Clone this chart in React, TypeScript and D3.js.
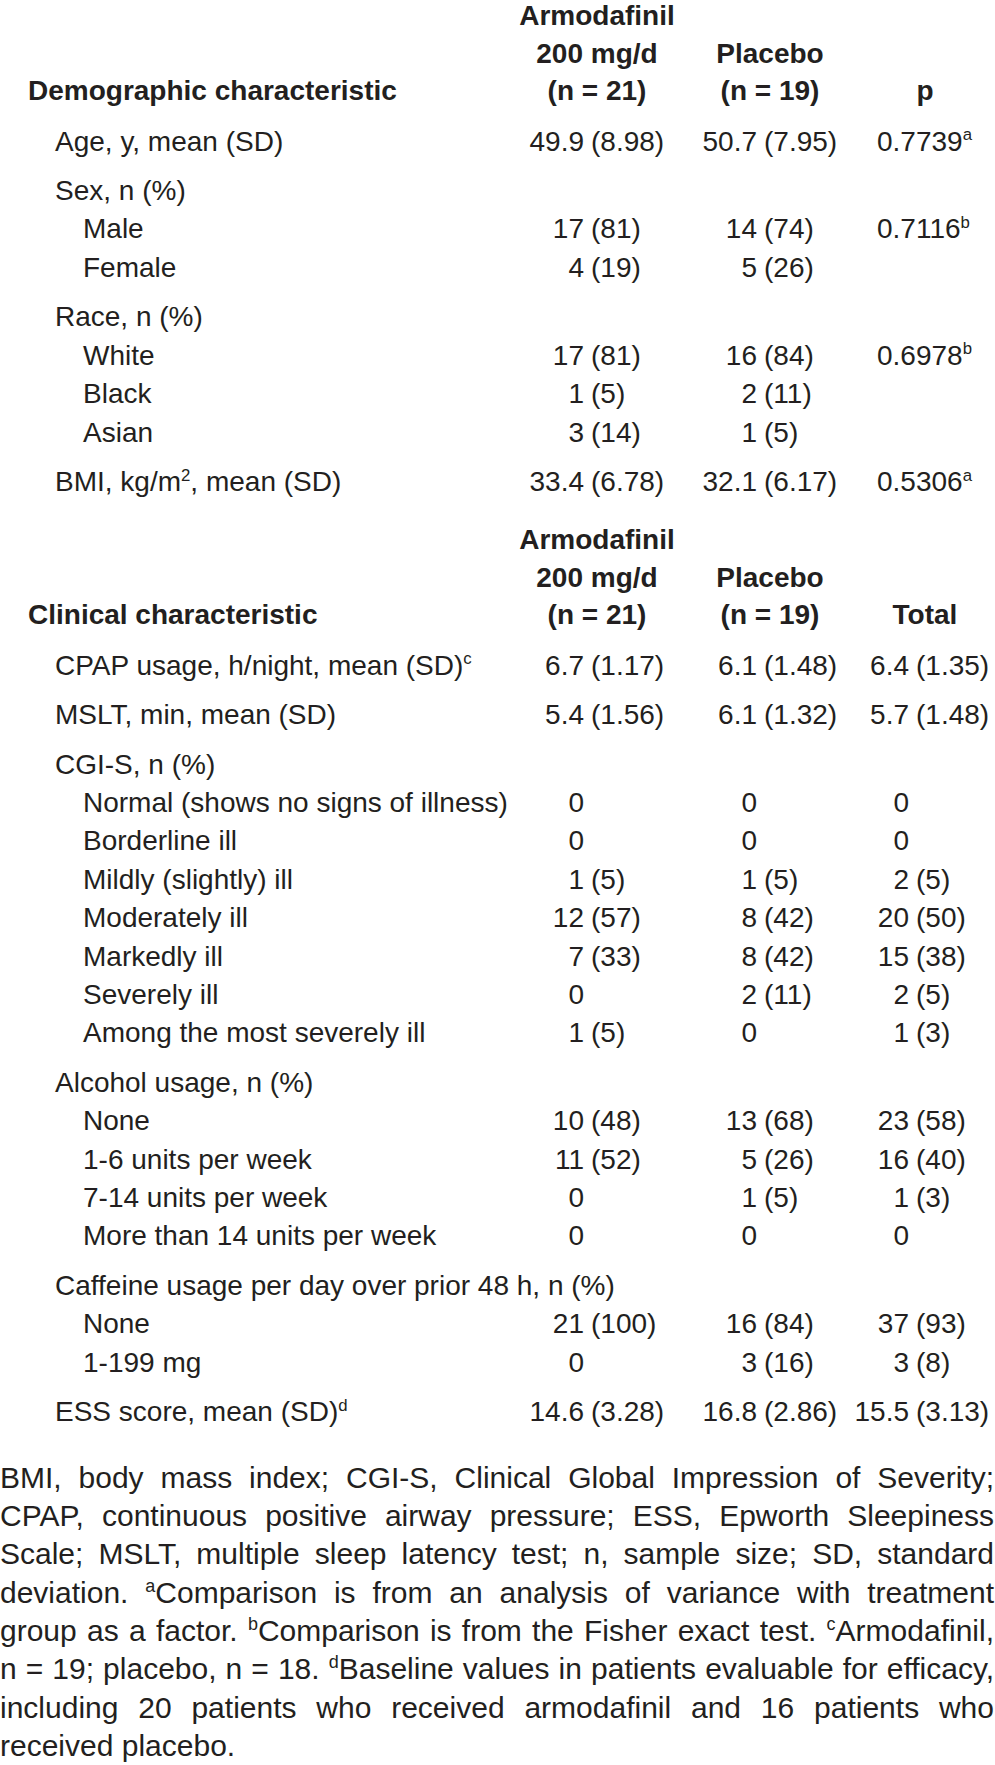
import React, { useEffect, useRef } from 'react';
import * as d3 from 'd3';

const WIDTH = 995;
const HEIGHT = 1765;
const FONT = '"Liberation Sans", Arial, Helvetica, sans-serif';
const INK = '#231f20';

// column headers (stacked lines, bottom aligned)
const demoTitle = 'Demographic characteristic';
const clinTitle = 'Clinical characteristic';
const armHead = ['Armodafinil', '200 mg/d', '(n = 21)'];
const plaHead = ['Placebo', '(n = 19)'];
const demoThirdHead = ['p'];
const clinThirdHead = ['Total'];

// demographic block ("^x" = superscript)
const demoLabels = ['Age, y, mean (SD)', 'Sex, n (%)', 'Male', 'Female', 'Race, n (%)', 'White', 'Black', 'Asian', 'BMI, kg/m^2, mean (SD)'];
const demoLevels = [1, 1, 2, 2, 1, 2, 2, 2, 1];
const demoArm = ['49.9 (8.98)', '', '17 (81)', '4 (19)', '', '17 (81)', '1 (5)', '3 (14)', '33.4 (6.78)'];
const demoPla = ['50.7 (7.95)', '', '14 (74)', '5 (26)', '', '16 (84)', '2 (11)', '1 (5)', '32.1 (6.17)'];
const demoP = ['0.7739^a', '', '0.7116^b', '', '', '0.6978^b', '', '', '0.5306^a'];

// clinical block
const clinLabels = [
  'CPAP usage, h/night, mean (SD)^c', 'MSLT, min, mean (SD)', 'CGI-S, n (%)',
  'Normal (shows no signs of illness)', 'Borderline ill', 'Mildly (slightly) ill', 'Moderately ill',
  'Markedly ill', 'Severely ill', 'Among the most severely ill',
  'Alcohol usage, n (%)', 'None', '1-6 units per week', '7-14 units per week', 'More than 14 units per week',
  'Caffeine usage per day over prior 48 h, n (%)', 'None', '1-199 mg', 'ESS score, mean (SD)^d'
];
const clinLevels = [1, 1, 1, 2, 2, 2, 2, 2, 2, 2, 1, 2, 2, 2, 2, 1, 2, 2, 1];
const clinArm = ['6.7 (1.17)', '5.4 (1.56)', '', '0', '0', '1 (5)', '12 (57)', '7 (33)', '0', '1 (5)', '', '10 (48)', '11 (52)', '0', '0', '', '21 (100)', '0', '14.6 (3.28)'];
const clinPla = ['6.1 (1.48)', '6.1 (1.32)', '', '0', '0', '1 (5)', '8 (42)', '8 (42)', '2 (11)', '0', '', '13 (68)', '5 (26)', '1 (5)', '0', '', '16 (84)', '3 (16)', '16.8 (2.86)'];
const clinTot = ['6.4 (1.35)', '5.7 (1.48)', '', '0', '0', '2 (5)', '20 (50)', '15 (38)', '2 (5)', '1 (3)', '', '23 (58)', '16 (40)', '1 (3)', '0', '', '37 (93)', '3 (8)', '15.5 (3.13)'];

const footLines = [
  'BMI, body mass index; CGI-S, Clinical Global Impression of Severity;',
  'CPAP, continuous positive airway pressure; ESS, Epworth Sleepiness',
  'Scale; MSLT, multiple sleep latency test; n, sample size; SD, standard',
  'deviation. ^aComparison is from an analysis of variance with treatment',
  'group as a factor. ^bComparison is from the Fisher exact test. ^cArmodafinil,',
  'n = 19; placebo, n = 18. ^dBaseline values in patients evaluable for efficacy,',
  'including 20 patients who received armodafinil and 16 patients who',
  'received placebo.'
];

const FS = 28;
const FOOT_FS = 30;

// append text with ^x superscripts as tspans
function rich(text: any, str: string, fs: number) {
  const parts = str.split(/\^(\w)/);
  const shift = fs * 0.37;
  let raised = false;
  parts.forEach((p, i) => {
    if (i % 2 === 1) {
      text.append('tspan').attr('dy', -shift).attr('font-size', fs * 0.6).text(p);
      raised = true;
    } else if (p) {
      const t = text.append('tspan').text(p);
      if (raised) { t.attr('dy', shift); raised = false; }
    }
  });
}

export default function App() {
  const ref = useRef<SVGSVGElement>(null);

  useEffect(() => {
    document.body.style.margin = '0';
    const svg = d3.select(ref.current);
    svg.selectAll('*').remove();
    const g = svg.append('g').attr('font-family', FONT).attr('fill', INK).attr('font-size', FS);

    // column anchors: where the "(" of a value starts / header centres
    const parenX = d3.scaleOrdinal<string, number>().domain(['arm', 'pla', 'third']).range([591, 764, 916]);
    const headX = d3.scaleOrdinal<string, number>().domain(['arm', 'pla', 'third']).range([597, 770, 925]);
    const levelX = d3.scaleOrdinal<number, number>().domain([0, 1, 2]).range([28, 55, 83]);
    const HEAD_STEP = 37.5, ROW_STEP = 38.4, GROUP_STEP = 49.5;

    const drawValue = (col: string, v: string, y: number) => {
      if (!v) return;
      const [num, par] = v.split(' (');
      g.append('text').attr('x', parenX(col) - 7).attr('y', y).attr('text-anchor', 'end').text(num);
      if (par) g.append('text').attr('x', parenX(col)).attr('y', y).text('(' + par);
    };

    const drawBlock = (
      headBottom: number, title: string, third: string[], labels: string[], levels: number[],
      arm: string[], pla: string[], thirdVals: string[], thirdIsP: boolean
    ) => {
      const heads: [string, string[]][] = [['arm', armHead], ['pla', plaHead], ['third', third]];
      heads.forEach(([col, lines]) => {
        lines.forEach((l, i) => {
          g.append('text').attr('x', headX(col)).attr('y', headBottom - (lines.length - 1 - i) * HEAD_STEP)
            .attr('text-anchor', 'middle').attr('font-weight', 'bold').text(l);
        });
      });
      g.append('text').attr('x', levelX(0)).attr('y', headBottom).attr('font-weight', 'bold').text(title);

      const steps = levels.map((lv, i) => (i === 0 ? 50.5 : lv === 1 ? GROUP_STEP : ROW_STEP));
      const ys = Array.from(d3.cumsum(steps), s => headBottom + s);
      labels.forEach((lab, i) => {
        const t = g.append('text').attr('x', levelX(levels[i])).attr('y', ys[i]);
        rich(t, lab, FS);
        drawValue('arm', arm[i], ys[i]);
        drawValue('pla', pla[i], ys[i]);
        if (thirdIsP) {
          if (thirdVals[i]) rich(g.append('text').attr('x', 877).attr('y', ys[i]), thirdVals[i], FS);
        } else {
          drawValue('third', thirdVals[i], ys[i]);
        }
      });
      return ys[ys.length - 1];
    };

    const demoEnd = drawBlock(100, demoTitle, demoThirdHead, demoLabels, demoLevels, demoArm, demoPla, demoP, true);
    const clinEnd = drawBlock(demoEnd + 133, clinTitle, clinThirdHead, clinLabels, clinLevels, clinArm, clinPla, clinTot, false);

    // footnote, justified
    const foot = g.append('g').attr('font-size', FOOT_FS);
    const footY = d3.scaleLinear().domain([0, 1]).range([clinEnd + 66.5, clinEnd + 66.5 + 38.3]);
    footLines.forEach((line, i) => {
      const t = foot.append('text').attr('x', 0).attr('y', footY(i));
      rich(t, line, FOOT_FS);
      if (i < footLines.length - 1) {
        const node = t.node() as SVGTextElement;
        const w = node.getComputedTextLength();
        const spaces = (line.match(/ /g) || []).length;
        const extra = (WIDTH - 1 - w) / spaces;
        if (extra > -2.5) t.attr('word-spacing', extra);
        else t.attr('textLength', WIDTH - 1).attr('lengthAdjust', 'spacingAndGlyphs');
      }
    });
  }, []);

  return <svg ref={ref} width={WIDTH} height={HEIGHT} style={{ display: 'block', background: '#fff' }} />;
}
